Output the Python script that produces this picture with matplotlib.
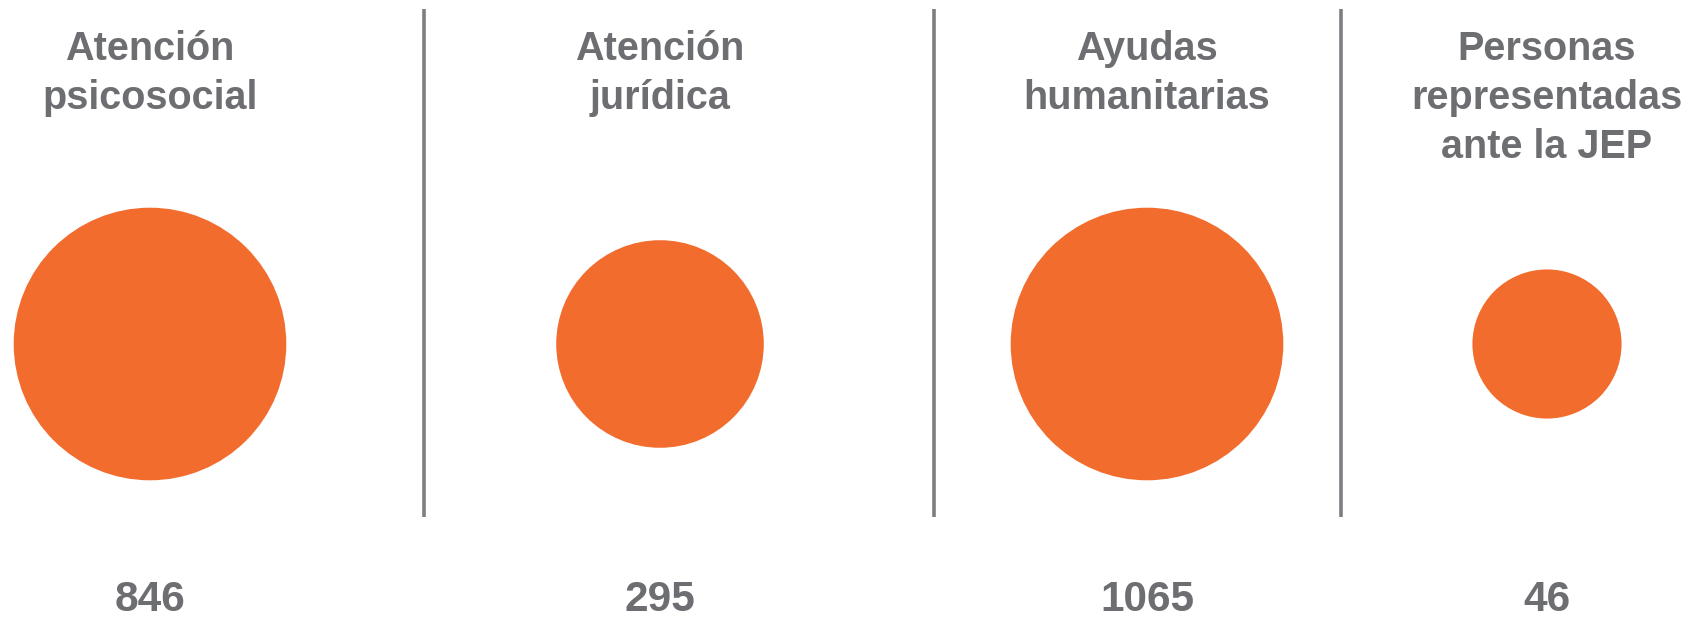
import matplotlib
matplotlib.use("Agg")
import matplotlib.pyplot as plt
from matplotlib.patches import Circle
import numpy as np

# ---- data ----
categories = ["Atención\npsicosocial", "Atención\njurídica",
              "Ayudas\nhumanitarias", "Personas\nrepresentadas\nante la JEP"]
values = [846, 295, 1065, 46]
value_labels = ["846", "295", "1065", "46"]

# ---- layout / style ----
W, H = 1699, 617
ORANGE = "#f26c2d"
TEXT = "#6d6e71"
LINE = "#7d7e81"
FONT = "Liberation Sans"

centers_x = [150, 660, 1147, 1547]
center_y = 344
dividers_x = [424, 934, 1341]


def radius(v):
    # visual size scale (sqrt scale with offset, capped)
    return min(55.5 + 2.811 * np.sqrt(v), 136.3)


fig = plt.figure(figsize=(W / 100, H / 100), dpi=100)
fig.patch.set_facecolor("white")
ax = fig.add_axes([0, 0, 1, 1])
ax.set_xlim(0, W)
ax.set_ylim(H, 0)
ax.set_aspect("equal")
ax.axis("off")

for x in dividers_x:
    ax.plot([x, x], [9, 517], color=LINE, lw=2.6, solid_capstyle="butt")

for cx, cat, v, lab in zip(centers_x, categories, values, value_labels):
    ax.add_patch(Circle((cx, center_y), radius(v), color=ORANGE, lw=0))
    ax.text(cx, 30.5, cat, ha="center", va="top", fontsize=28.5,
            fontweight="bold", color=TEXT, family=FONT,
            linespacing=1.35, multialignment="center")
    ax.text(cx, 611, lab, ha="center", va="baseline", fontsize=30.5,
            fontweight="bold", color=TEXT, family=FONT)

fig.savefig("out.png", dpi=100, facecolor="white")
